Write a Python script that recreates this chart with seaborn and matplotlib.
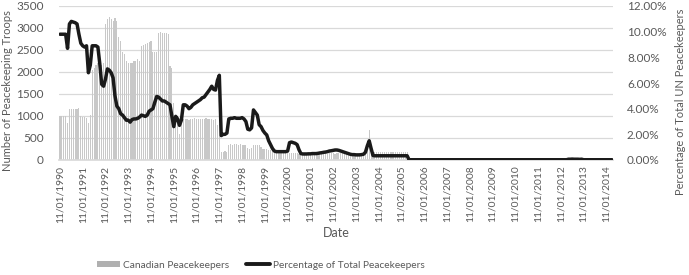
import matplotlib
matplotlib.use("Agg")
import matplotlib.pyplot as plt
import seaborn as sns
import pandas as pd
from matplotlib.patches import Patch
from matplotlib.lines import Line2D
from matplotlib.ticker import FuncFormatter

# Monthly data starting Nov 1990 (one row per year of months)
troops = [
    1000, 1000, 1010, 1000, 850, 1150, 1150, 1150, 1160, 1170, 1185, 1000,
    980, 970, 960, 850, 1030, 2050, 2100, 2150, 2200, 2100, 2150, 2200,
    3100, 3200, 3250, 3200, 3150, 3230, 3150, 2800, 2700, 2450, 2400, 2250,
    2200, 2200, 2200, 2250, 2250, 2300, 2250, 2600, 2620, 2640, 2650, 2690,
    2700, 2450, 2450, 2450, 2880, 2900, 2880, 2890, 2880, 2870, 2130, 2100,
    1300, 1000, 900, 600, 920, 930, 940, 930, 920, 930, 940, 950,
    930, 930, 940, 930, 940, 950, 940, 930, 930, 920, 930, 800,
    820, 190, 190, 200, 190, 350, 355, 350, 360, 355, 350, 355,
    350, 345, 350, 270, 260, 270, 340, 350, 340, 330, 300, 260,
    250, 240, 230, 220, 200, 190, 180, 180, 170, 180, 170, 160,
    170, 160, 150, 160, 150, 150, 140, 150, 140, 150, 160, 150,
    140, 150, 160, 150, 150, 140, 150, 160, 150, 140, 150, 160,
    150, 140, 150, 150, 160, 150, 140, 150, 150, 140, 150, 160,
    150, 140, 150, 150, 160, 170, 300, 680, 250, 190, 190, 190,
    190, 190, 190, 190, 190, 190, 190, 190, 190, 190, 190, 190,
    190, 190, 190, 190, 0, 0, 0, 0, 0, 0, 0, 0,
    0, 0, 0, 0, 0, 0, 0, 0, 0, 0, 0, 0,
    0, 0, 0, 0, 0, 0, 0, 0, 0, 0, 0, 0,
    0, 0, 0, 0, 0, 0, 0, 0, 0, 0, 0, 0,
    0, 0, 0, 0, 0, 0, 0, 0, 0, 0, 0, 0,
    0, 0, 0, 0, 0, 0, 0, 0, 0, 0, 0, 0,
    0, 0, 0, 0, 0, 0, 0, 0, 0, 0, 0, 0,
    0, 0, 0, 0, 30, 30, 35, 30, 30, 30, 25, 30,
    0, 0, 0, 0, 0, 0, 0, 0, 0, 0, 0, 0,
    0, 0, 0, 0,
]

pct = [
    9.8, 9.8, 9.8, 9.8, 8.7, 10.6, 10.8, 10.75, 10.7, 10.6, 9.8, 9.1,
    8.9, 8.8, 8.9, 6.8, 7.4, 8.9, 8.9, 8.9, 8.8, 7.5, 5.9, 5.75,
    6.3, 7.1, 7.0, 6.8, 6.4, 5.0, 4.2, 4.0, 3.6, 3.5, 3.3, 3.1,
    3.1, 2.95, 3.15, 3.2, 3.2, 3.25, 3.35, 3.5, 3.45, 3.4, 3.5, 3.8,
    3.9, 4.0, 4.5, 4.95, 4.9, 4.75, 4.6, 4.6, 4.5, 4.4, 4.3, 3.4,
    2.6, 3.4, 3.2, 2.7, 3.1, 4.3, 4.3, 4.2, 4.0, 4.1, 4.3, 4.4,
    4.5, 4.6, 4.7, 4.85, 4.9, 5.1, 5.3, 5.5, 5.75, 5.5, 5.45, 6.2,
    6.6, 1.9, 2.0, 2.0, 2.1, 3.2, 3.25, 3.25, 3.3, 3.25, 3.25, 3.25,
    3.3, 3.2, 3.0, 2.4, 2.35, 2.5, 3.9, 3.7, 3.5, 2.75, 2.6, 2.3,
    2.1, 1.95, 1.5, 1.2, 0.9, 0.7, 0.65, 0.65, 0.65, 0.65, 0.65, 0.65,
    0.7, 1.35, 1.4, 1.35, 1.3, 1.2, 0.8, 0.5, 0.47, 0.47, 0.47, 0.48,
    0.48, 0.5, 0.5, 0.5, 0.52, 0.55, 0.57, 0.6, 0.62, 0.65, 0.7, 0.72,
    0.75, 0.78, 0.78, 0.75, 0.7, 0.65, 0.6, 0.55, 0.5, 0.45, 0.42, 0.42,
    0.4, 0.4, 0.4, 0.42, 0.45, 0.6, 1.1, 1.5, 0.9, 0.35, 0.33, 0.33,
    0.33, 0.33, 0.33, 0.33, 0.33, 0.33, 0.33, 0.33, 0.33, 0.33, 0.33, 0.33,
    0.33, 0.33, 0.33, 0.33, 0.02, 0.02, 0.02, 0.02, 0.02, 0.02, 0.02, 0.02,
    0.02, 0.02, 0.02, 0.02, 0.02, 0.02, 0.02, 0.02, 0.02, 0.02, 0.02, 0.02,
    0.02, 0.02, 0.02, 0.02, 0.02, 0.02, 0.02, 0.02, 0.02, 0.02, 0.02, 0.02,
    0.02, 0.02, 0.02, 0.02, 0.02, 0.02, 0.02, 0.02, 0.02, 0.02, 0.02, 0.02,
    0.02, 0.02, 0.02, 0.02, 0.02, 0.02, 0.02, 0.02, 0.02, 0.02, 0.02, 0.02,
    0.02, 0.02, 0.02, 0.02, 0.02, 0.02, 0.02, 0.02, 0.02, 0.02, 0.02, 0.02,
    0.02, 0.02, 0.02, 0.02, 0.02, 0.02, 0.02, 0.02, 0.02, 0.02, 0.02, 0.02,
    0.02, 0.02, 0.02, 0.02, 0.06, 0.06, 0.07, 0.06, 0.06, 0.06, 0.05, 0.06,
    0.02, 0.02, 0.02, 0.02, 0.02, 0.02, 0.02, 0.02, 0.02, 0.02, 0.02, 0.02,
    0.02, 0.02, 0.02, 0.02,
]

tick_labels = [
    "11/01/1990", "11/01/1991", "11/01/1992", "11/01/1993", "11/01/1994",
    "11/01/1995", "11/01/1996", "11/01/1997", "11/01/1998", "11/01/1999",
    "11/01/2000", "11/01/2001", "11/01/2002", "11/01/2003", "11/01/2004",
    "11/02/2005", "11/01/2006", "11/01/2007", "11/01/2008", "11/01/2009",
    "11/01/2010", "11/01/2011", "11/01/2012", "11/01/2013", "11/01/2014",
]

n = min(len(troops), len(pct))
df = pd.DataFrame({"idx": list(range(n)), "troops": troops[:n], "pct": pct[:n]})

sns.set_theme(style="white")
plt.rcParams['font.family'] = ['Lato', 'DejaVu Sans']
TXT = "#595959"
GRID = "#D9D9D9"

fig = plt.figure(figsize=(6.89, 2.75), dpi=100)
ax = fig.add_axes([59 / 689, 1 - 160 / 275, (613 - 59) / 689, (160 - 6) / 275])

sns.barplot(data=df, x="idx", y="troops", color="#C8C8C8", saturation=1,
            width=0.6, linewidth=0, ax=ax, zorder=2)
ax.set_ylim(0, 3500)
ax.set_yticks(range(0, 3501, 500))
ax.yaxis.grid(True, color=GRID, linewidth=0.9, zorder=0)
ax.set_axisbelow(True)
ax.set_xlim(-0.5, n - 0.5)
ax.set_xticks(list(range(0, 12 * len(tick_labels), 12)))
ax.set_xticklabels(tick_labels, rotation=90, fontsize=7.4, color=TXT)
ax.tick_params(axis="x", length=0, pad=4)
ax.tick_params(axis="y", length=0, pad=11, labelsize=8.5, labelcolor=TXT)
for s in ["top", "right", "left"]:
    ax.spines[s].set_visible(False)
ax.spines["bottom"].set_color(GRID)
ax.set_xlabel("")
ax.set_ylabel("")

ax2 = ax.twinx()
sns.lineplot(data=df, x="idx", y="pct", color="#1A1A1A", linewidth=2.5, ax=ax2)
ax2.set_ylim(0, 12)
ax2.set_yticks(range(0, 13, 2))
ax2.yaxis.set_major_formatter(FuncFormatter(lambda v, p: f"{v:.2f}%"))
ax2.tick_params(axis="y", length=0, pad=10, labelsize=8.5, labelcolor=TXT)
for s in ["top", "right", "left", "bottom"]:
    ax2.spines[s].set_visible(False)
ax2.grid(False)
ax2.set_xlim(-0.5, n - 0.5)
ax2.set_xlabel("")
ax2.set_ylabel("")

# Axis titles placed like the reference
fig.text(8 / 689, 1 - 91 / 275, "Number of Peacekeeping Troops", rotation=90,
         ha="center", va="center", fontsize=8, color=TXT)
fig.text(680 / 689, 1 - 102 / 275, "Percentage of Total UN Peacekeepers", rotation=90,
         ha="center", va="center", fontsize=8, color=TXT)
fig.text(336 / 689, 1 - 233 / 275, "Date", ha="center", va="center",
         fontsize=9, color=TXT)

handles = [Patch(facecolor="#B0B0B0", edgecolor="none"),
           Line2D([0], [0], color="#1A1A1A", linewidth=2.8)]
fig.legend(handles, ["Canadian Peacekeepers", "Percentage of Total Peacekeepers"],
           loc="center", bbox_to_anchor=(0.378, 1 - 265 / 275), ncol=2,
           frameon=False, fontsize=7.3, labelcolor=TXT, handlelength=2.3,
           handleheight=0.6, handletextpad=0.3, columnspacing=1.7)

fig.savefig("out.png", dpi=100)
